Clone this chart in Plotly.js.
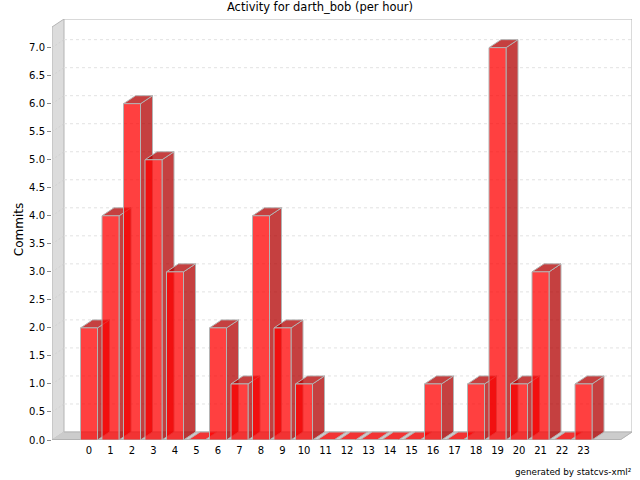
<!DOCTYPE html>
<html><head><meta charset="utf-8">
<script src="https://cdn.plot.ly/plotly-3.0.1.min.js"></script>
<style>html,body{margin:0;padding:0;background:#fff}</style></head>
<body><div id="chart" style="width:640px;height:480px"></div>
<script>
const hours = ['0','1','2','3','4','5','6','7','8','9','10','11','12','13','14','15','16','17','18','19','20','21','22','23'];
const commits = [2,4,6,5,3,0,2,1,4,2,1,0,0,0,0,0,1,0,1,7,1,3,0,1];
const yTicks = [0,0.5,1,1.5,2,2.5,3,3.5,4,4.5,5,5.5,6,6.5,7];
const xIndex = hours.map((_, i) => i);

const pxX = 21.5, pxY = 56.05;
const L = 52, R = 8, T = 19, B = 40, W = 640, H = 480;
const x0px = 89;
const xRange = [(L - x0px) / pxX, (W - R - x0px) / pxX];
const yRange = [0, (H - B - T) / pxY];
const dx = 12 / pxX, dy = 8 / pxY, hw = 8.5 / pxX;
const wallTop = (H - B - 27) / pxY;
const EDGE = '#b4b4b4';

const faces = [];
function face(xs, ys, fill) {
  faces.push({type: 'scatter', mode: 'lines', x: xs.concat(xs[0]), y: ys.concat(ys[0]), fill: 'toself',
    fillcolor: fill, line: {color: EDGE, width: 1}, hoverinfo: 'skip', showlegend: false, xaxis: 'x', yaxis: 'y'});
}
commits.forEach((v, i) => {
  const a = i - hw, b = i + hw;
  if (v > 0) {
    face([b, b + dx, b + dx, b], [0, dy, v + dy, v], 'rgba(178,0,0,0.75)');
    face([a, b, b + dx, a + dx], [v, v, v + dy, v + dy], 'rgba(178,0,0,0.75)');
  } else {
    face([a, b, b + dx, a + dx], [0, 0, dy, dy], 'rgba(255,0,0,0.75)');
  }
});

const fronts = {type: 'bar', x: xIndex, y: commits, width: 17 / pxX, xaxis: 'x2', yaxis: 'y2',
  marker: {color: 'rgba(255,0,0,0.75)', line: {color: EDGE, width: 1}}, hoverinfo: 'skip', showlegend: false};

const xa = xRange[0], xb = xRange[1];
const wallColor = '#dcdcdc', floorColor = '#cccccc';
const poly = (p, fill, line) => ({type: 'path', xref: 'x', yref: 'y', layer: 'below',
  path: 'M' + p.map(q => q[0] + ',' + q[1]).join('L') + 'Z', fillcolor: fill, line: {color: line, width: 1}});
const seg = (x1, y1, x2, y2, color, dash) => ({type: 'line', xref: 'x', yref: 'y', layer: 'below', x0: x1, y0: y1, x1: x2, y1: y2,
  line: {color: color, width: 1, dash: dash || 'solid'}});
const shapes = [
  poly([[xa, 0], [xa + dx, dy], [xa + dx, wallTop + dy], [xa, wallTop]], wallColor, EDGE),
  poly([[xa, 0], [xa + dx, dy], [xb, dy], [xb - dx, 0]], floorColor, floorColor),
  seg(xa + dx, wallTop + dy, xb, wallTop + dy, EDGE),
  seg(xb, wallTop + dy, xb, dy, EDGE),
  seg(xb, dy, xb - dx, 0, EDGE),
  seg(xa, 0, xb - dx, 0, '#9a9a9a'),
  seg(xa + dx, dy, xb, dy, EDGE),
];
yTicks.slice(1).forEach(v => {
  shapes.push(seg(xa + dx, v + dy, xb, v + dy, '#e2e2e2', '3px,3px'));
  shapes.push(seg(xa, v, xa + dx, v + dy, '#d2d2d2', '2px,2px'));
});

const tickFont = {family: 'DejaVu Sans, sans-serif', size: 10, color: '#000'};
const layout = {
  width: W, height: H, margin: {l: L, r: R, t: T, b: B, pad: 0}, showlegend: false,
  paper_bgcolor: '#fff', plot_bgcolor: '#fff', barmode: 'overlay',
  title: {text: 'Activity for darth_bob (per hour)', x: 0.5, xanchor: 'center', y: 1 - 7 / H, yanchor: 'middle',
    font: {family: 'DejaVu Sans, sans-serif', size: 11.5, color: '#000'}},
  xaxis: {range: xRange, tickmode: 'array', tickvals: xIndex, ticktext: hours, ticks: '', showgrid: false, zeroline: false,
    showline: false, tickfont: tickFont, tickangle: 0, ticklabelstandoff: 3},
  yaxis: {range: yRange, tickmode: 'array', tickvals: yTicks, ticktext: yTicks.map(v => v.toFixed(1)), ticks: 'outside', ticklen: 4,
    tickcolor: '#888', tickwidth: 1, showgrid: false, zeroline: false, showline: false, tickfont: tickFont,
    title: {text: 'Commits', font: {family: 'DejaVu Sans, sans-serif', size: 12, color: '#000'}, standoff: 2}},
  xaxis2: {range: xRange, overlaying: 'x', visible: false},
  yaxis2: {range: yRange, overlaying: 'y', visible: false},
  shapes: shapes,
  annotations: [{text: 'generated by statcvs-xml²', xref: 'paper', yref: 'paper', x: (633 - L) / (W - L - R), xanchor: 'right',
    y: (H - B - 472) / (H - B - T), yanchor: 'middle', showarrow: false,
    font: {family: 'DejaVu Sans, sans-serif', size: 8.8, color: '#000'}}]
};
Plotly.newPlot('chart', faces.concat([fronts]), layout, {displayModeBar: false, staticPlot: true});
</script></body></html>
